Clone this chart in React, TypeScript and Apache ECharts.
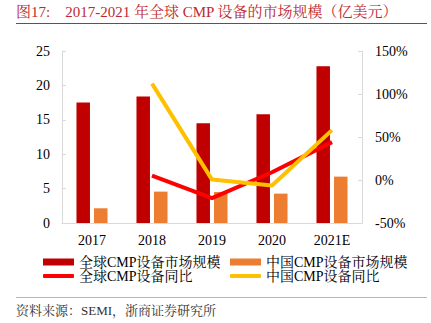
import React, { useEffect, useRef } from "react";
import * as echarts from "echarts";

const categories = ["2017", "2018", "2019", "2020", "2021E"];
const globalMarket = [17.5, 18.4, 14.5, 15.8, 22.8];
const chinaMarket = [2.14, 4.56, 4.5, 4.27, 6.74];
const globalYoY = [null, 5, -21, 9, 44];
const chinaYoY = [null, 112, 0.5, -6.5, 58];

const leftTicks = { min: 0, max: 25, interval: 5 };
const rightTicks = { min: -50, max: 150, interval: 50 };

const names = ["全球CMP设备市场规模", "中国CMP设备市场规模", "全球CMP设备同比", "中国CMP设备同比"];
const titleText = "图17:    2017-2021 年全球 CMP 设备的市场规模（亿美元）";
const sourceText = "资料来源：SEMI，浙商证券研究所";

const FONT = "'Liberation Serif', 'Times New Roman', 'Noto Serif CJK SC', 'Noto Sans CJK SC', serif";

export default function App() {
  const ref = useRef<HTMLDivElement>(null);
  useEffect(() => {
    if (!ref.current) return;
    const chart = echarts.init(ref.current, null, { renderer: "svg" });
    const legendText = { fontFamily: FONT, fontSize: 14, lineHeight: 14, color: "#000" };
    chart.setOption({
      animation: false,
      backgroundColor: "#fff",
      grid: { left: 62, right: 69, top: 51, bottom: 100 },
      legend: [
        { data: [{ name: names[0], icon: "rect" }], left: 43, top: 255, itemWidth: 31, itemHeight: 7, itemGap: 0, textStyle: legendText, padding: 0 },
        { data: [{ name: names[1], icon: "rect" }], left: 230, top: 255, itemWidth: 31, itemHeight: 7, itemGap: 0, textStyle: legendText, padding: 0 },
        { data: [{ name: names[2], icon: "roundRect" }], left: 43, top: 269, itemWidth: 31, itemHeight: 4, itemGap: 0, textStyle: legendText, padding: 0 },
        { data: [{ name: names[3], icon: "roundRect" }], left: 230, top: 269, itemWidth: 31, itemHeight: 4, itemGap: 0, textStyle: legendText, padding: 0 },
      ],
      xAxis: {
        type: "category",
        data: categories,
        axisLine: { lineStyle: { color: "#d9d9d9" } },
        axisTick: { show: false },
        axisLabel: { fontFamily: FONT, fontSize: 14, color: "#000", margin: 10 },
      },
      yAxis: [
        {
          type: "value",
          ...leftTicks,
          axisLine: { show: true, lineStyle: { color: "#d9d9d9" } },
          axisTick: { show: true, inside: true, length: 4, lineStyle: { color: "#d9d9d9" } },
          splitLine: { show: false },
          axisLabel: { fontFamily: FONT, fontSize: 14, color: "#000", margin: 12 },
        },
        {
          type: "value",
          ...rightTicks,
          axisLine: { show: true, lineStyle: { color: "#d9d9d9" } },
          axisTick: { show: true, inside: true, length: 4, lineStyle: { color: "#d9d9d9" } },
          splitLine: { show: false },
          axisLabel: { fontFamily: FONT, fontSize: 14, color: "#000", margin: 13, formatter: "{value}%" },
        },
      ],
      series: [
        { name: names[0], type: "bar", data: globalMarket, barWidth: 13.5, barGap: "30%", itemStyle: { color: "#c00000" } },
        { name: names[1], type: "bar", data: chinaMarket, barWidth: 13.5, itemStyle: { color: "#ed7d31" } },
        { name: names[2], type: "line", yAxisIndex: 1, data: globalYoY, symbol: "none", lineStyle: { color: "#ff0000", width: 4 }, itemStyle: { color: "#ff0000" } },
        { name: names[3], type: "line", yAxisIndex: 1, data: chinaYoY, symbol: "none", lineStyle: { color: "#ffc000", width: 4 }, itemStyle: { color: "#ffc000" } },
      ],
      graphic: [
        { type: "text", left: 16, top: 4, style: { text: titleText, fontFamily: FONT, fontSize: 15, fill: "#c0282d" } },
        { type: "line", shape: { x1: 16, y1: 23.5, x2: 427, y2: 23.5 }, style: { stroke: "#c0282d", lineWidth: 1 } },
        { type: "line", shape: { x1: 16, y1: 297.5, x2: 427, y2: 297.5 }, style: { stroke: "#e8a0a0", lineWidth: 1 } },
        { type: "text", left: 16, top: 304, style: { text: sourceText, fontFamily: FONT, fontSize: 13, fill: "#333" } },
      ],
    });
    return () => chart.dispose();
  }, []);
  return <div ref={ref} style={{ position: "absolute", left: 0, top: 0, width: 431, height: 323 }} />;
}
